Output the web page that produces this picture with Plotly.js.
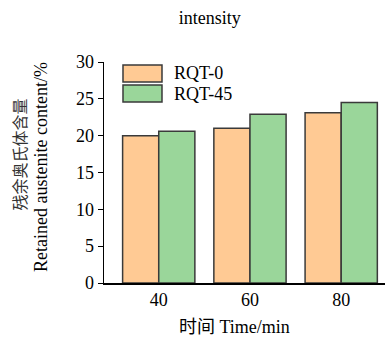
<!DOCTYPE html>
<html>
<head>
<meta charset="utf-8">
<script src="https://cdn.plot.ly/plotly-3.0.1.min.js"></script>
<style>html,body{margin:0;padding:0;background:#fff;}#chart{width:385px;height:338px;}</style>
</head>
<body>
<div id="chart"></div>
<script>
const categories = ['40', '60', '80'];
const seriesNames = ['RQT-0', 'RQT-45'];
const rqt0 = [20.0, 21.0, 23.1];
const rqt45 = [20.6, 22.9, 24.5];
const yTickVals = [0, 5, 10, 15, 20, 25, 30];
const titleText = 'intensity';
const xTitle = '时间 Time/min';
const yTitleCN = '残余奥氏体含量';
const yTitleEN = 'Retained austenite content/%';

const colors = ['#FFCA94', '#9AD69A'];
const outline = '#3a3a3a';
const serif = 'Liberation Serif';
const serifCJK = 'Liberation Serif, Noto Sans CJK SC';

const traces = [rqt0, rqt45].map((vals, i) => ({
  type: 'bar',
  name: seriesNames[i],
  x: categories,
  y: vals,
  marker: {color: colors[i], line: {color: outline, width: 1.5}},
  hoverinfo: 'skip'
}));

// legend swatches (paper coords)
const legY = [[0.9095, 0.9864], [0.819, 0.896]];
const shapes = legY.map((yy, i) => ({
  type: 'rect', xref: 'paper', yref: 'paper',
  x0: 0.0676, x1: 0.2064, y0: yy[0], y1: yy[1],
  fillcolor: colors[i], line: {color: outline, width: 1.5}
}));
const legTextY = [0.948, 0.857];
const annotations = seriesNames.map((n, i) => ({
  xref: 'paper', yref: 'paper', x: 0.242, y: legTextY[i],
  xanchor: 'left', yanchor: 'middle', text: n, showarrow: false,
  font: {family: serif, size: 18, color: '#000'}
}));
annotations.push({
  xref: 'paper', yref: 'paper', x: 0.466, y: -0.199,
  xanchor: 'center', yanchor: 'middle', text: xTitle, showarrow: false,
  font: {family: serifCJK, size: 18, color: '#000'}
});
annotations.push({
  xref: 'paper', yref: 'paper', x: -0.299, y: 0.581,
  xanchor: 'center', yanchor: 'middle', text: yTitleCN, showarrow: false, textangle: -90,
  font: {family: serifCJK, size: 16, color: '#333'}
});
annotations.push({
  xref: 'paper', yref: 'paper', x: -0.224, y: 0.525,
  xanchor: 'center', yanchor: 'middle', text: yTitleEN, showarrow: false, textangle: -90,
  font: {family: serif, size: 18, color: '#000'}
});

const layout = {
  width: 385, height: 338,
  margin: {l: 104, r: 0, t: 62, b: 55},
  paper_bgcolor: '#fff', plot_bgcolor: '#fff',
  showlegend: false,
  barmode: 'group', bargap: 0.208, bargroupgap: 0,
  title: {text: titleText, x: 0.545, xref: 'container', xanchor: 'center',
          y: 0.947, yref: 'container', yanchor: 'middle',
          font: {family: serif, size: 18, color: '#000'}},
  xaxis: {
    type: 'category', range: [-0.6, 2.48],
    showline: true, linecolor: '#000', linewidth: 1.5,
    ticks: '', ticklen: 0,
    showgrid: false, zeroline: false,
    tickfont: {family: serif, size: 18, color: '#000'}
  },
  yaxis: {
    range: [0, 30], tickvals: yTickVals,
    showline: true, linecolor: '#000', linewidth: 1.5,
    ticks: 'outside', ticklen: 5, tickcolor: '#000', tickwidth: 1,
    showgrid: false, zeroline: false,
    tickfont: {family: serif, size: 18, color: '#000'}
  },
  shapes: shapes,
  annotations: annotations
};

Plotly.newPlot('chart', traces, layout, {displayModeBar: false, staticPlot: true});
</script>
</body>
</html>
